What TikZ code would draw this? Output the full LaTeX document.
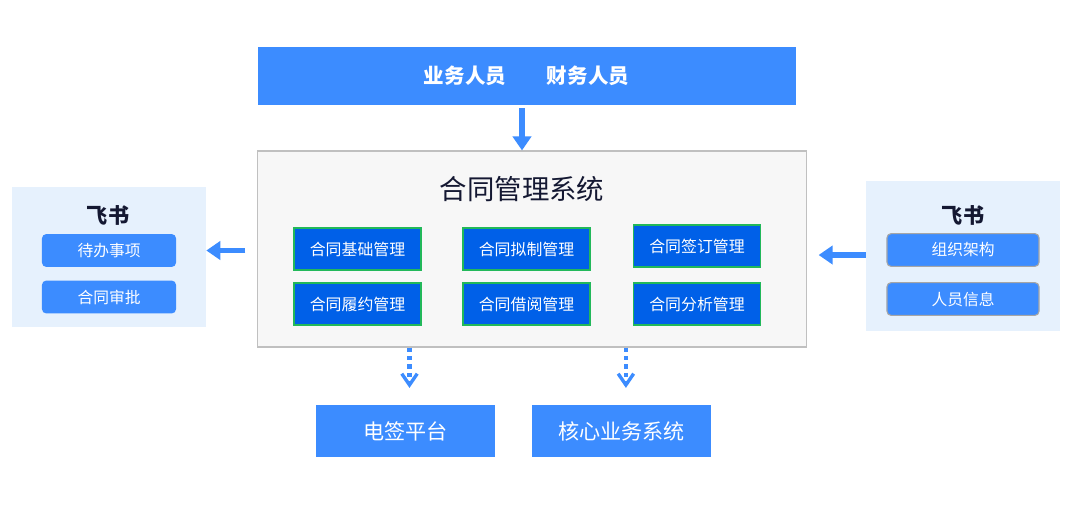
\documentclass[tikz,border=0pt]{standalone}
\usepackage{fontspec}
\setmainfont{Noto Sans CJK SC}
\usetikzlibrary{arrows.meta}
\definecolor{barblue}{RGB}{60,140,255}
\definecolor{modblue}{RGB}{0,96,232}
\definecolor{modgreen}{RGB}{34,184,90}
\definecolor{panelblue}{RGB}{230,241,253}
\definecolor{sysgray}{RGB}{247,247,247}
\definecolor{sysline}{RGB}{192,192,192}
\definecolor{navy}{RGB}{20,24,50}
\begin{document}
\begin{tikzpicture}[x=0.025cm, y=-0.025cm,
		bar/.style={fill=barblue, draw=none, text=white, inner sep=0pt},
		module/.style={draw=modgreen, line width=0.9pt, fill=modblue, text=white, minimum width=3.18cm, minimum height=1.05cm, font=\fontsize{11.3}{13}\selectfont, inner sep=0pt},
		panel/.style={fill=panelblue, draw=none, inner sep=0pt},
		btn/.style={fill=barblue, rounded corners=3pt, text=white, minimum width=3.35cm, minimum height=0.82cm, font=\fontsize{11.2}{13}\selectfont, inner sep=0pt},
		flow/.style={barblue, line width=3.8pt, -{Triangle[width=13pt, length=10pt]}},
		feed/.style={barblue, line width=3pt, dash pattern=on 3pt off 3pt, -{Straight Barb[width=11pt, length=8pt, line width=2.4pt]}}]
		\useasboundingbox (0,0) rectangle (1080,509);
		% users on top
		\node[bar, minimum width=13.45cm, minimum height=1.45cm] (users) at (527,76) {};
		\node[text=white, font=\fontsize{14.6}{17}\selectfont\bfseries] (ywry) at (465,76) {业务人员};
		\node[text=white, font=\fontsize{14.6}{17}\selectfont\bfseries] (cwry) at (588,76) {财务人员};
		% contract system
		\node[fill=sysgray, draw=sysline, line width=0.8pt, minimum width=13.7cm, minimum height=4.9cm, inner sep=0pt] (sys) at (532,249) {};
		\node[text=navy, font=\fontsize{19.5}{23}\selectfont] (title) at (522,189) {合同管理系统};
		\node[module] (jc) at (357.5,249) {合同基础管理};
		\node[module] (nz) at (526.5,249) {合同拟制管理};
		\node[module] (qd) at (697,246) {合同签订管理};
		\node[module] (ly) at (357.5,304) {合同履约管理};
		\node[module] (jy) at (526.5,304) {合同借阅管理};
		\node[module] (fx) at (697,304) {合同分析管理};
		% feishu left
		\node[panel, minimum width=4.85cm, minimum height=3.5cm] (fsl) at (109,257) {};
		\node[text=navy, font=\fontsize{15}{17}\selectfont\bfseries] (fsltitle) at (108,215) {飞书};
		\node[btn] (db) at (109,250.5) {待办事项};
		\node[btn] (sp) at (109,297) {合同审批};
		% feishu right
		\node[panel, minimum width=4.85cm, minimum height=3.75cm] (fsr) at (963,256) {};
		\node[text=navy, font=\fontsize{15}{17}\selectfont\bfseries] (fsrtitle) at (963,215) {飞书};
		\node[btn, draw=gray!70, line width=0.8pt, minimum width=3.8cm] (zz) at (963,250) {组织架构};
		\node[btn, draw=gray!70, line width=0.8pt, minimum width=3.8cm] (ry) at (963,299) {人员信息};
		% downstream
		\node[bar, minimum width=4.47cm, minimum height=1.3cm, font=\fontsize{15}{18}\selectfont] (dq) at (405.5,431) {电签平台};
		\node[bar, minimum width=4.47cm, minimum height=1.3cm, font=\fontsize{15}{18}\selectfont] (hx) at (621.5,431) {核心业务系统};
		% connectors
		\draw[flow, shorten <=0.08cm] (users.south -| title) -- (sys.north -| title);
		\coordinate (lto) at (fsl.east |- db);
		\draw[flow, shorten <=0.3cm] (sys.west |- db) -- (lto);
		\coordinate (rfrom) at (fsr.west |- 0,255);
		\draw[flow] (rfrom) -- ([xshift=0.3cm]sys.east |- rfrom);
		\draw[feed, shorten >=0.42cm] ([xshift=0.1cm]sys.south -| dq) -- ([xshift=0.1cm]dq.north);
		\draw[feed, shorten >=0.42cm] ([xshift=0.11cm]sys.south -| hx) -- ([xshift=0.11cm]hx.north);
\end{tikzpicture}
\end{document}
